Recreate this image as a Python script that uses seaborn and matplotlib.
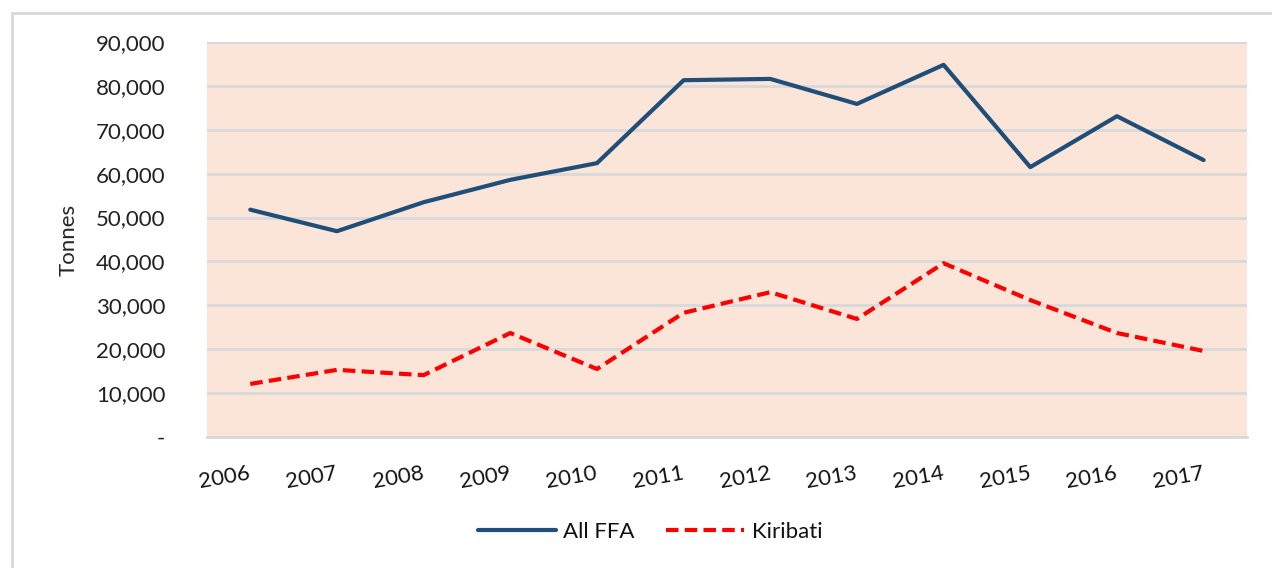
import matplotlib
matplotlib.use("Agg")
import matplotlib.pyplot as plt
import matplotlib.ticker as mticker
from matplotlib.patches import Rectangle
import pandas as pd
import seaborn as sns

years = ["2006", "2007", "2008", "2009", "2010", "2011",
         "2012", "2013", "2014", "2015", "2016", "2017"]
all_ffa = [51800, 46900, 53500, 58600, 62400, 81300,
           81600, 75900, 84800, 61500, 73100, 63100]
kiribati = [12100, 15300, 14100, 23700, 15500, 28300,
            33000, 26900, 39600, 31200, 23700, 19600]

df = pd.DataFrame({"year": years, "All FFA": all_ffa, "Kiribati": kiribati})
long = df.melt(id_vars="year", var_name="series", value_name="tonnes")

sns.set_style("white")
plt.rcParams["font.family"] = ["Lato", "DejaVu Sans"]

fig = plt.figure(figsize=(12.72, 5.68), dpi=100)
ax = fig.add_axes([0.1627, 0.2306, 0.8176, 0.6954])

# outer chart border
fig.patches.append(Rectangle((12 / 1272, -0.1), 1.1, 1 - 13 / 568 + 0.1,
                             transform=fig.transFigure, fill=False,
                             edgecolor="#D9D9D9", linewidth=2, zorder=0))

sns.lineplot(data=long, x="year", y="tonnes", hue="series", style="series",
             palette={"All FFA": "#1F4E79", "Kiribati": "#FF0000"},
             dashes={"All FFA": "", "Kiribati": (3, 1.5)},
             linewidth=3, ax=ax)

ax.set_facecolor("#FAE5D8")
ax.set_xlim(-0.5, len(years) - 0.5)
ax.set_ylim(0, 90000)
ax.yaxis.set_major_locator(mticker.MultipleLocator(10000))
ax.yaxis.set_major_formatter(mticker.FuncFormatter(
    lambda v, p: "-" if v == 0 else f"{v:,.0f}"))
ax.grid(axis="y", color="#D9D9D9", linewidth=2)
ax.set_axisbelow(True)
for s in ["top", "right", "left"]:
    ax.spines[s].set_visible(False)
ax.spines["bottom"].set_color("#D9D9D9")
ax.spines["bottom"].set_linewidth(2)

ax.tick_params(axis="y", labelsize=16, length=0, pad=30, labelcolor="#222222")
ax.tick_params(axis="x", labelsize=16, length=0, pad=26, labelcolor="#111111")
for lab in ax.get_xticklabels():
    lab.set_rotation(10)
    lab.set_ha("right")
    lab.set_va("center")
    lab.set_rotation_mode("anchor")
ax.set_xlabel("")
ax.set_ylabel("Tonnes", fontsize=16, labelpad=12)

leg = ax.legend(loc="center", bbox_to_anchor=(650 / 1272, 1 - 532 / 568),
                bbox_transform=fig.transFigure, ncol=2, frameon=False,
                fontsize=16, handlelength=3.5, columnspacing=1.4, handletextpad=0.35)
for h in leg.get_lines():
    h.set_linewidth(3)
for t in leg.get_texts():
    t.set_color("#111111")

fig.savefig("out.png", dpi=100)
